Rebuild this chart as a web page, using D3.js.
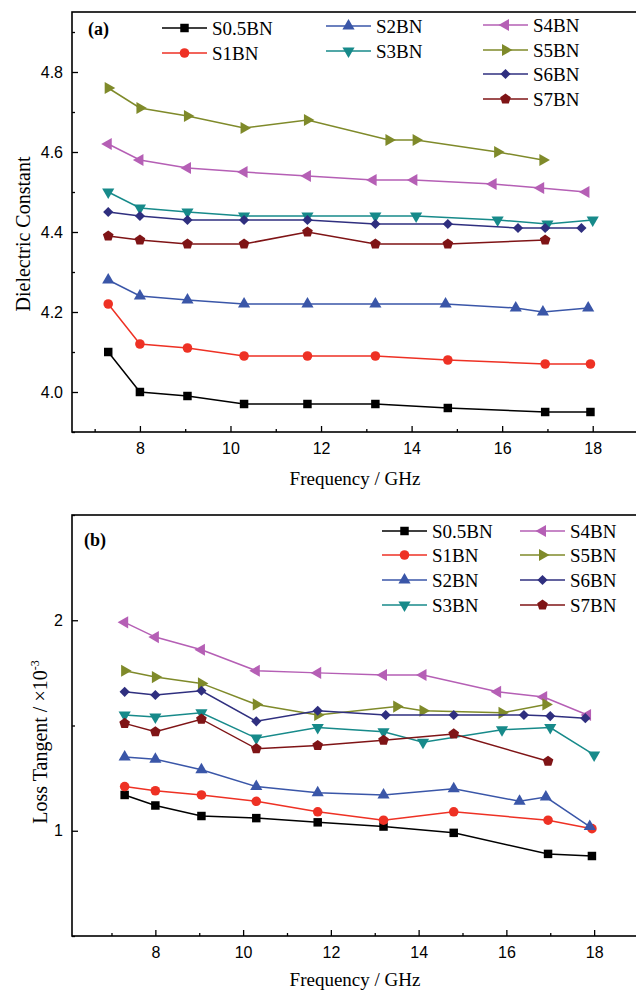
<!DOCTYPE html>
<html>
<head>
<meta charset="utf-8">
<script src="https://cdn.jsdelivr.net/npm/d3@7/dist/d3.min.js"></script>
<style>
  body { margin: 0; background: #fff; }
  .tick text { font-family: "Liberation Sans", Arial, sans-serif; font-size: 16px; fill: #000; }
  .serif { font-family: "Liberation Serif", "Times New Roman", serif; fill: #000; }
</style>
</head>
<body>
<svg id="chart" width="636" height="990"></svg>
<script>
const seriesNames = ["S0.5BN", "S1BN", "S2BN", "S3BN", "S4BN", "S5BN", "S6BN", "S7BN"];
const seriesColors = ["#000000", "#ee3124", "#3a56a8", "#178a8a", "#b55fb5", "#7f8a2a", "#2f2f7f", "#7f1416"];

// (a) dielectric constant
const dielFreqs = [
    [7.3, 8.0, 9.05, 10.3, 11.7, 13.2, 14.8, 16.95, 17.95],
    [7.3, 8.0, 9.05, 10.3, 11.7, 13.2, 14.8, 16.95, 17.95],
    [7.3, 8.0, 9.05, 10.3, 11.7, 13.2, 14.75, 16.3, 16.9, 17.9],
    [7.3, 8.0, 9.05, 10.3, 11.7, 13.2, 14.1, 15.9, 17.0, 18.0],
    [7.3, 8.0, 9.05, 10.3, 11.7, 13.15, 14.05, 15.8, 16.85, 17.85],
    [7.3, 8.0, 9.05, 10.3, 11.7, 13.5, 14.1, 15.9, 16.9],
    [7.3, 8.0, 9.05, 10.3, 11.7, 13.2, 14.8, 16.35, 16.95, 17.75],
    [7.3, 8.0, 9.05, 10.3, 11.7, 13.2, 14.8, 16.95]
];
const dielValues = [
    [4.10, 4.00, 3.99, 3.97, 3.97, 3.97, 3.96, 3.95, 3.95],
    [4.22, 4.12, 4.11, 4.09, 4.09, 4.09, 4.08, 4.07, 4.07],
    [4.28, 4.24, 4.23, 4.22, 4.22, 4.22, 4.22, 4.21, 4.20, 4.21],
    [4.50, 4.46, 4.45, 4.44, 4.44, 4.44, 4.44, 4.43, 4.42, 4.43],
    [4.62, 4.58, 4.56, 4.55, 4.54, 4.53, 4.53, 4.52, 4.51, 4.50],
    [4.76, 4.71, 4.69, 4.66, 4.68, 4.63, 4.63, 4.60, 4.58],
    [4.45, 4.44, 4.43, 4.43, 4.43, 4.42, 4.42, 4.41, 4.41, 4.41],
    [4.39, 4.38, 4.37, 4.37, 4.40, 4.37, 4.37, 4.38]
];

// (b) loss tangent (x10^-3)
const lossFreqs = [
    [7.3, 8.0, 9.05, 10.3, 11.7, 13.2, 14.8, 16.95, 17.95],
    [7.3, 8.0, 9.05, 10.3, 11.7, 13.2, 14.8, 16.95, 17.95],
    [7.3, 8.0, 9.05, 10.3, 11.7, 13.2, 14.8, 16.3, 16.9, 17.9],
    [7.3, 8.0, 9.05, 10.3, 11.7, 13.2, 14.1, 15.9, 17.0, 18.0],
    [7.3, 8.0, 9.05, 10.3, 11.7, 13.2, 14.1, 15.8, 16.85, 17.85],
    [7.3, 8.0, 9.05, 10.3, 11.7, 13.5, 14.1, 15.9, 16.9],
    [7.3, 8.0, 9.05, 10.3, 11.7, 13.25, 14.8, 16.4, 17.0, 17.8],
    [7.3, 8.0, 9.05, 10.3, 11.7, 13.2, 14.8, 16.95]
];
const lossValues = [
    [1.17, 1.12, 1.07, 1.06, 1.04, 1.02, 0.99, 0.89, 0.88],
    [1.21, 1.19, 1.17, 1.14, 1.09, 1.05, 1.09, 1.05, 1.01],
    [1.35, 1.34, 1.29, 1.21, 1.18, 1.17, 1.20, 1.14, 1.16, 1.02],
    [1.55, 1.54, 1.56, 1.44, 1.49, 1.47, 1.42, 1.48, 1.49, 1.36],
    [1.99, 1.92, 1.86, 1.76, 1.75, 1.74, 1.74, 1.66, 1.635, 1.55],
    [1.76, 1.73, 1.70, 1.60, 1.55, 1.59, 1.57, 1.56, 1.60],
    [1.66, 1.645, 1.665, 1.52, 1.57, 1.55, 1.55, 1.55, 1.545, 1.535],
    [1.51, 1.47, 1.53, 1.39, 1.405, 1.43, 1.46, 1.33]
];

const freqTicks = [8, 10, 12, 14, 16, 18];
const freqMinor = [7, 9, 11, 13, 15, 17, 19];
const dielTicks = [4.0, 4.2, 4.4, 4.6, 4.8];
const dielMinor = [3.9, 4.1, 4.3, 4.5, 4.7, 4.9];
const lossTicks = [1, 2];
const lossMinor = [0.5, 1.5, 2.5];

const svg = d3.select("#chart");

function pentagon(r) {
    const pts = d3.range(5).map(i => {
        const a = -Math.PI / 2 + i * 2 * Math.PI / 5;
        return [r * Math.cos(a), r * Math.sin(a)];
    });
    return "M" + pts.join("L") + "Z";
}

// marker shape per series
function marker(i) {
    switch (i) {
        case 0: return { d: d3.symbol(d3.symbolSquare, 72)(), rot: 0 };
        case 1: return { d: d3.symbol(d3.symbolCircle, 72)(), rot: 0 };
        case 2: return { d: d3.symbol(d3.symbolTriangle, 64)(), rot: 0 };
        case 3: return { d: d3.symbol(d3.symbolTriangle, 64)(), rot: 180 };
        case 4: return { d: d3.symbol(d3.symbolTriangle, 64)(), rot: -90 };
        case 5: return { d: d3.symbol(d3.symbolTriangle, 64)(), rot: 90 };
        case 6: return { d: d3.symbol(d3.symbolSquare, 52)(), rot: 45 };
        default: return { d: pentagon(5.6), rot: 0 };
    }
}

function drawPanel(p) {
    const x = d3.scaleLinear().domain(p.xDomain).range([72, 638]);
    const y = d3.scaleLinear().domain(p.yDomain).range([p.bottom, p.top]);
    const g = svg.append("g");

    // axes
    g.append("g")
        .attr("transform", `translate(0,${p.bottom})`)
        .call(d3.axisBottom(x).tickValues(freqTicks).tickSize(-6).tickSizeOuter(0).tickPadding(11).tickFormat(d3.format("d")));
    g.append("g")
        .attr("transform", `translate(0,${p.bottom})`)
        .call(d3.axisBottom(x).tickValues(freqMinor).tickSize(-3).tickSizeOuter(0).tickFormat(""));
    g.append("g")
        .attr("transform", "translate(72,0)")
        .call(d3.axisLeft(y).tickValues(p.yTicks).tickSize(-6).tickSizeOuter(0).tickPadding(9).tickFormat(p.yFormat));
    g.append("g")
        .attr("transform", "translate(72,0)")
        .call(d3.axisLeft(y).tickValues(p.yMinor).tickSize(-3).tickSizeOuter(0).tickFormat(""));
    g.selectAll(".domain").remove();
    g.selectAll(".tick line").attr("stroke", "#000").attr("stroke-width", 1.3);

    // frame: right side runs past the picture edge like the original
    g.append("rect")
        .attr("x", 72).attr("y", p.top)
        .attr("width", 572).attr("height", p.bottom - p.top)
        .attr("fill", "none").attr("stroke", "#000").attr("stroke-width", 1.6);

    // series
    const line = d3.line().x(d => x(d[0])).y(d => y(d[1]));
    p.freqs.forEach((fs, i) => {
        const pts = fs.map((f, j) => [f, p.values[i][j]]);
        g.append("path")
            .datum(pts)
            .attr("d", line)
            .attr("fill", "none")
            .attr("stroke", seriesColors[i])
            .attr("stroke-width", 1.5);
        const m = marker(i);
        g.selectAll(null)
            .data(pts)
            .enter().append("path")
            .attr("d", m.d)
            .attr("transform", d => `translate(${x(d[0])},${y(d[1])}) rotate(${m.rot})`)
            .attr("fill", seriesColors[i]);
    });

    // legend
    p.legend.forEach(item => {
        const i = item.s;
        const lg = g.append("g").attr("transform", `translate(${item.x},${item.y})`);
        lg.append("line").attr("x1", 0).attr("x2", 45).attr("y1", 0).attr("y2", 0)
            .attr("stroke", seriesColors[i]).attr("stroke-width", 1.5);
        const m = marker(i);
        lg.append("path").attr("d", m.d)
            .attr("transform", `translate(22.5,0) rotate(${m.rot})`)
            .attr("fill", seriesColors[i]);
        lg.append("text").attr("class", "serif")
            .attr("x", 50).attr("y", 6.5)
            .style("font-size", "19px")
            .text(seriesNames[i]);
    });

    // panel label
    g.append("text").attr("class", "serif")
        .attr("x", p.labelX).attr("y", p.labelY)
        .style("font-size", "18px").style("font-weight", "bold")
        .text(p.label);

    // axis titles
    g.append("text").attr("class", "serif")
        .attr("x", 355).attr("y", p.xTitleY)
        .attr("text-anchor", "middle")
        .style("font-size", "19px")
        .text("Frequency / GHz");

    const yt = g.append("text").attr("class", "serif")
        .attr("transform", `translate(${p.yTitleX},${p.yTitleY}) rotate(-90)`)
        .attr("text-anchor", "middle")
        .style("font-size", "20px");
    yt.append("tspan").text(p.yTitle);
    if (p.ySup) {
        yt.append("tspan").attr("dy", -8).style("font-size", "12px").text(p.ySup);
    }
}

drawPanel({
    top: 12, bottom: 432,
    xDomain: [6.5, 19], yDomain: [3.9, 4.95],
    yTicks: dielTicks, yMinor: dielMinor, yFormat: d3.format(".1f"),
    freqs: dielFreqs, values: dielValues,
    legend: [
        { s: 0, x: 162, y: 28 }, { s: 1, x: 162, y: 53 },
        { s: 2, x: 326, y: 26 }, { s: 3, x: 326, y: 51 },
        { s: 4, x: 483, y: 25 }, { s: 5, x: 483, y: 50 },
        { s: 6, x: 483, y: 74 }, { s: 7, x: 483, y: 99 }
    ],
    label: "(a)", labelX: 88, labelY: 35,
    xTitleY: 485,
    yTitle: "Dielectric Constant", yTitleX: 30, yTitleY: 234
});

drawPanel({
    top: 515, bottom: 936,
    xDomain: [6.1, 19], yDomain: [0.5, 2.5],
    yTicks: lossTicks, yMinor: lossMinor, yFormat: d3.format("d"),
    freqs: lossFreqs, values: lossValues,
    legend: [
        { s: 0, x: 382, y: 531 }, { s: 1, x: 382, y: 555 },
        { s: 2, x: 382, y: 580 }, { s: 3, x: 382, y: 605 },
        { s: 4, x: 520, y: 531 }, { s: 5, x: 520, y: 555 },
        { s: 6, x: 520, y: 580 }, { s: 7, x: 520, y: 605 }
    ],
    label: "(b)", labelX: 84, labelY: 546,
    xTitleY: 986,
    yTitle: "Loss Tangent / ×10", ySup: "-3", yTitleX: 47, yTitleY: 742
});
</script>
</body>
</html>
